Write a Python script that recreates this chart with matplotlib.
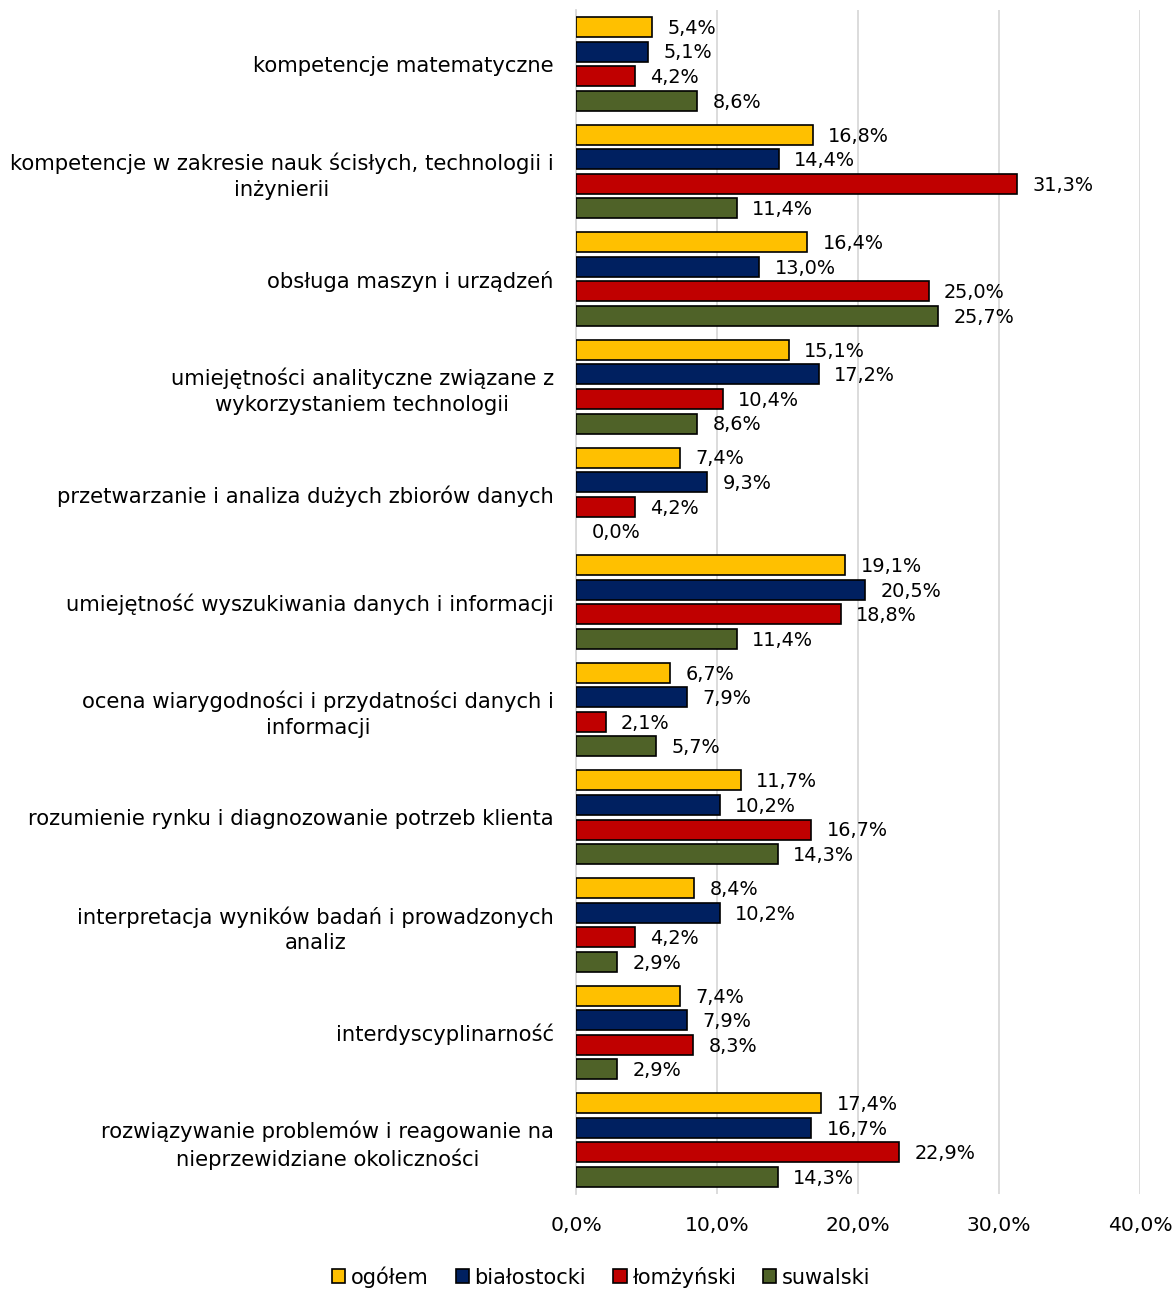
import matplotlib
matplotlib.use("Agg")
import matplotlib.pyplot as plt
import numpy as np
from matplotlib.patches import Patch

categories = [
    "kompetencje matematyczne",
    "kompetencje w zakresie nauk ścisłych, technologii i\ninżynierii",
    "obsługa maszyn i urządzeń",
    "umiejętności analityczne związane z\nwykorzystaniem technologii",
    "przetwarzanie i analiza dużych zbiorów danych",
    "umiejętność wyszukiwania danych i informacji",
    "ocena wiarygodności i przydatności danych i\ninformacji",
    "rozumienie rynku i diagnozowanie potrzeb klienta",
    "interpretacja wyników badań i prowadzonych\nanaliz",
    "interdyscyplinarność",
    "rozwiązywanie problemów i reagowanie na\nnieprzewidziane okoliczności",
]
series_names = ["ogółem", "białostocki", "łomżyński", "suwalski"]
ogolem = [5.4, 16.8, 16.4, 15.1, 7.4, 19.1, 6.7, 11.7, 8.4, 7.4, 17.4]
bialostocki = [5.1, 14.4, 13.0, 17.2, 9.3, 20.5, 7.9, 10.2, 10.2, 7.9, 16.7]
lomzynski = [4.2, 31.3, 25.0, 10.4, 4.2, 18.8, 2.1, 16.7, 4.2, 8.3, 22.9]
suwalski = [8.6, 11.4, 25.7, 8.6, 0.0, 11.4, 5.7, 14.3, 2.9, 2.9, 14.3]
xticks = [0, 10, 20, 30, 40]
colors = ["#FFC000", "#002060", "#C00000", "#4F6228"]

plt.rcParams['font.family'] = ['DejaVu Sans']
fig = plt.figure(figsize=(11.76, 12.91), dpi=100)
ax = fig.add_axes([576/1176, 1 - 1194/1291, (1140-576)/1176, (1194-10)/1291])

data = [ogolem, bialostocki, lomzynski, suwalski]
n = len(categories)
y = np.arange(n)
step = 0.228
h = 0.186
for i, (vals, col, name) in enumerate(zip(data, colors, series_names)):
    pos = y + (i - 1.5) * step
    lws = [1.2 if v > 0 else 0 for v in vals]
    ax.barh(pos, vals, height=h, color=col, edgecolor="black", linewidth=lws, label=name, zorder=3)
    for p, v in zip(pos, vals):
        ax.annotate(f"{v:.1f}%".replace(".", ","), (v, p), xytext=(11, -1), textcoords="offset points",
                    va="center", ha="left", fontsize=13.9, color="#000000")

ax.set_ylim(n - 0.5, -0.5)
ax.set_xlim(0, 40)
ax.set_xticks(xticks)
ax.set_xticklabels([f"{t:.1f}%".replace(".", ",") for t in xticks], fontsize=14.6)
ax.tick_params(axis='x', length=0, pad=16)
ax.set_yticks(y)
ax.set_yticklabels(categories, fontsize=15.2, multialignment='center', linespacing=1.35)
for lbl in ax.get_yticklabels():
    if "\n" in lbl.get_text():
        lbl.set_y(lbl.get_position()[1])
ax.tick_params(axis='y', length=0, pad=16)
ax.grid(axis='x', color="#D9D9D9", linewidth=1.3, zorder=0)
for s in ["top", "right", "bottom"]:
    ax.spines[s].set_visible(False)
ax.spines["left"].set_color("#D9D9D9")
ax.spines["left"].set_linewidth(1.3)

handles = [Patch(facecolor=c, edgecolor="black", linewidth=1.2, label=nm) for c, nm in zip(colors, series_names)]
fig.legend(handles=handles, loc="center", bbox_to_anchor=(601/1176, 1 - 1277/1291), ncol=4, frameon=False,
           fontsize=15, handlelength=0.65, handleheight=0.65, handletextpad=0.25, columnspacing=1.3)
fig.savefig("out.png", dpi=100)
